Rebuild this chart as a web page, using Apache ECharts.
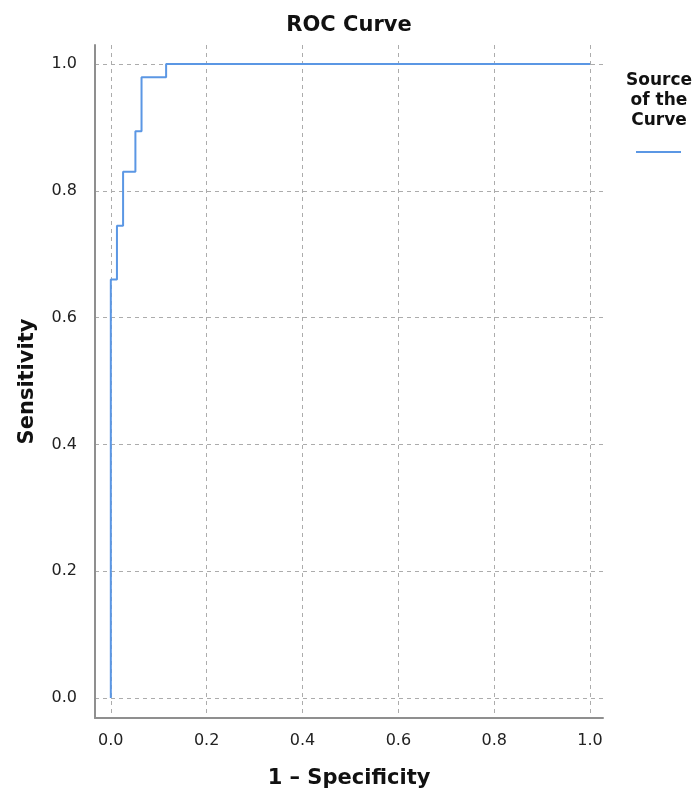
<!DOCTYPE html>
<html>
<head>
<meta charset="utf-8">
<script src="https://cdn.jsdelivr.net/npm/echarts@6/dist/echarts.min.js"></script>
<style>
  html, body { margin: 0; padding: 0; background: #fff; }
  #chart { width: 698px; height: 796px; }
</style>
</head>
<body>
<div id="chart"></div>
<script>
// ROC points (1 - specificity, sensitivity)
const fpr = [0, 0, 0.0128, 0.0256, 0.0513, 0.0641, 0.1154, 1];
const tpr = [0, 0.660, 0.745, 0.830, 0.894, 0.979, 1, 1];
const tickValues = [0, 0.2, 0.4, 0.6, 0.8, 1.0];

const FONT = "DejaVu Sans";
const LINE_COLOR = "#5b97e4";

const chart = echarts.init(document.getElementById("chart"));

const gridLine = {
  show: true,
  lineStyle: { color: "#acacac", type: [4, 4], width: 1 },
};

const axisCommon = {
  type: "value",
  nameLocation: "middle",
  nameTextStyle: { fontFamily: FONT, fontSize: 21, fontWeight: "bold", color: "#111" },
  axisLine: { show: true, onZero: false, lineStyle: { color: "#8f8f8f", width: 2 } },
  axisTick: { show: false, customValues: tickValues },
  splitLine: gridLine,
  axisLabel: {
    customValues: tickValues,
    fontFamily: FONT,
    fontSize: 16,
    color: "#222",
    formatter: (v) => v.toFixed(1),
  },
};

chart.setOption({
  backgroundColor: "#fff",
  animation: false,
  title: [
    {
      text: "ROC Curve",
      left: "center",
      top: 10,
      textStyle: { fontFamily: FONT, fontSize: 21, fontWeight: "bold", color: "#111" },
    },
    {
      text: "Source\nof the\nCurve",
      left: 654,
      top: 66,
      textAlign: "center",
      textStyle: { fontFamily: FONT, fontSize: 17, fontWeight: "bold", color: "#111", lineHeight: 20 },
    },
  ],
  legend: {
    left: 631,
    top: 146,
    icon: "rect",
    itemWidth: 45,
    itemHeight: 2,
    formatter: () => "",
    data: ["ROC"],
  },
  grid: { left: 95, right: 95, top: 45, bottom: 78, containLabel: false },
  xAxis: {
    ...axisCommon,
    name: "1 \u2013 Specificity",
    nameGap: 50,
    min: -0.033,
    max: 1.027,
    axisLabel: { ...axisCommon.axisLabel, margin: 15 },
  },
  yAxis: {
    ...axisCommon,
    name: "Sensitivity",
    nameGap: 57,
    min: -0.0315,
    max: 1.03,
    axisLabel: { ...axisCommon.axisLabel, margin: 18 },
  },
  series: [
    {
      name: "ROC",
      type: "line",
      step: "end",
      showSymbol: false,
      symbol: "none",
      lineStyle: { color: LINE_COLOR, width: 2 },
      itemStyle: { color: LINE_COLOR },
      data: fpr.map((x, i) => [x, tpr[i]]),
    },
  ],
});
</script>
</body>
</html>
